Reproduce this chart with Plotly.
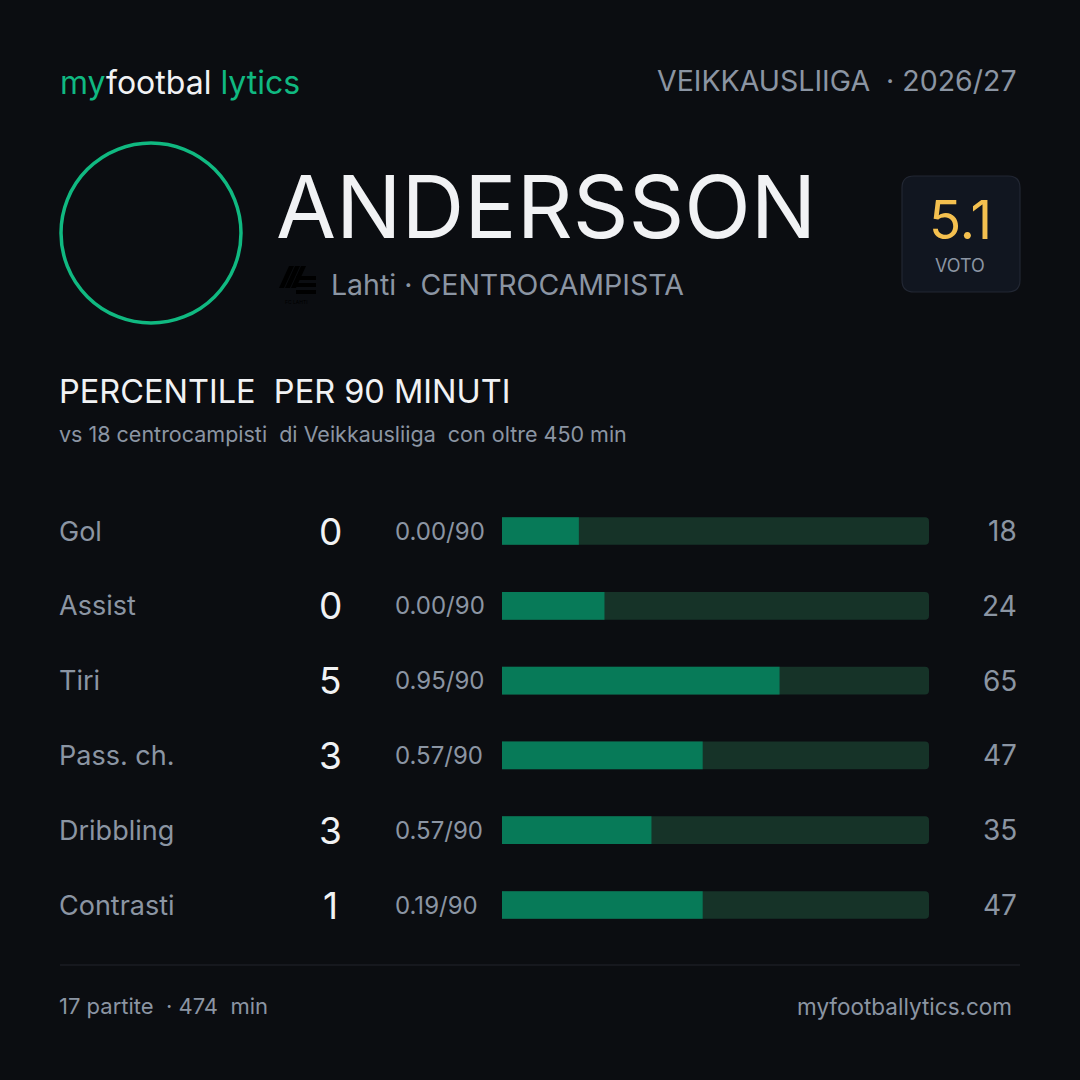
import plotly.graph_objects as go

# data
metrics = ["Gol", "Assist", "Tiri", "Pass. ch.", "Dribbling", "Contrasti"]
totals = [0, 0, 5, 3, 3, 1]
per90 = ["0.00/90", "0.00/90", "0.95/90", "0.57/90", "0.57/90", "0.19/90"]
percentiles = [18, 24, 65, 47, 35, 47]

player = "ANDERSSON"
club_line = "Lahti · CENTROCAMPISTA"
league_line = "VEIKKAUSLIIGA  · 2026/27"
rating = "5.1"
subtitle = "vs 18 centrocampisti  di Veikkausliiga  con oltre 450 min"
footer_left = "17 partite  · 474  min"
footer_right = "myfootballytics.com"

BG = "#0b0d11"
GREEN = "#10b981"
BAR = "#077a58"
TRACK = "#163328"
WHITE = "#f1f2f4"
GREY = "#8b95a3"
FONT = "Inter"
S = 1080.0


def px(x):
    return x / S


def py(y):
    return 1 - y / S


fig = go.Figure()

# track bars (full 100) and percentile bars
fig.add_trace(go.Bar(y=metrics, x=[100] * len(metrics), orientation="h",
                     marker=dict(color=TRACK, line=dict(width=0)),
                     width=0.37, hoverinfo="skip", showlegend=False))
fig.add_trace(go.Bar(y=metrics, x=percentiles, orientation="h",
                     marker=dict(color=BAR, line=dict(width=0)),
                     width=0.37, hoverinfo="skip", showlegend=False))

annotations = []


def txt(x, y, text, size, color=WHITE, anchor="left", row=False):
    annotations.append(dict(x=px(x), y=y if row else py(y), xref="paper",
                            yref="y" if row else "paper", text=text, showarrow=False,
                            xanchor=anchor, yanchor="middle",
                            font=dict(family=FONT, size=size, color=color)))


# header
txt(58, 83, f"<span style='color:{GREEN}'>my</span>footbal <span style='color:{GREEN}'>lytics</span>",
    32, WHITE)
txt(1019, 81, league_line, 28.5, GREY, "right")

# player block
txt(274, 207, player, 87, WHITE)
txt(329, 285, club_line, 28.5, GREY)

# rating box
txt(960, 220, rating, 53, "#f4c04f", "center")
txt(960, 265, "VOTO", 18, GREY, "center")

# section title
txt(57, 392, "PERCENTILE  PER 90 MINUTI", 32.5, WHITE)
txt(57, 434, subtitle, 21.5, GREY)

# rows
for m, t, p90, pc in zip(metrics, totals, per90, percentiles):
    txt(57, m, m, 27, GREY, row=True)
    txt(330, m, str(t), 37, WHITE, "center", row=True)
    txt(393, m, p90, 24, GREY, row=True)
    txt(1019, m, str(pc), 28, GREY, "right", row=True)

# footer
txt(57, 1006, footer_left, 22, GREY)
txt(1014, 1006, footer_right, 22.5, GREY, "right")


def P(x, y):
    return f"{px(x):.5f} {py(y):.5f}"


shapes = [
    # avatar ring
    dict(type="circle", xref="paper", yref="paper", x0=px(61), y0=py(323), x1=px(241), y1=py(143),
         line=dict(color=GREEN, width=3.5)),
    # rating box
    dict(type="path", xref="paper", yref="paper",
         path=(f"M {P(914, 176)} L {P(1008, 176)} Q {P(1020, 176)} {P(1020, 188)} "
               f"L {P(1020, 280)} Q {P(1020, 292)} {P(1008, 292)} L {P(914, 292)} "
               f"Q {P(902, 292)} {P(902, 280)} L {P(902, 188)} Q {P(902, 176)} {P(914, 176)} Z"),
         fillcolor="#111620", line=dict(color="#222733", width=1.2)),
    # divider
    dict(type="line", xref="paper", yref="paper", x0=px(60), y0=py(965), x1=px(1020), y1=py(965),
         line=dict(color="#22252d", width=1)),
]

# small club crest (black on dark)
for dx in (0, 6, 12):
    shapes.append(dict(type="path", xref="paper", yref="paper",
                       path=f"M {P(279 + dx, 288)} L {P(284 + dx, 288)} L {P(294 + dx, 266)} L {P(289 + dx, 266)} Z",
                       fillcolor="#000000", line=dict(width=0)))
for yy in (276, 283, 290):
    shapes.append(dict(type="rect", xref="paper", yref="paper", x0=px(296), y0=py(yy + 4),
                       x1=px(316), y1=py(yy), fillcolor="#000000", line=dict(width=0)))
annotations.append(dict(x=px(296), y=py(302), xref="paper", yref="paper", text="FC LAHTI",
                        showarrow=False, xanchor="center", yanchor="middle",
                        font=dict(family=FONT, size=5, color="#000000")))

fig.update_layout(
    width=1080, height=1080,
    margin=dict(l=0, r=0, t=0, b=0),
    paper_bgcolor=BG, plot_bgcolor=BG,
    barmode="overlay", barcornerradius=4,
    xaxis=dict(domain=[px(502), px(929)], range=[0, 100], visible=False, fixedrange=True),
    yaxis=dict(domain=[py(942.4), py(493.6)], categoryorder="array",
               categoryarray=metrics, autorange="reversed", visible=False, fixedrange=True),
    shapes=shapes,
    annotations=annotations,
)

fig.write_html("out.html", config={"displayModeBar": False},
               post_script="document.body.style.margin='0';")
